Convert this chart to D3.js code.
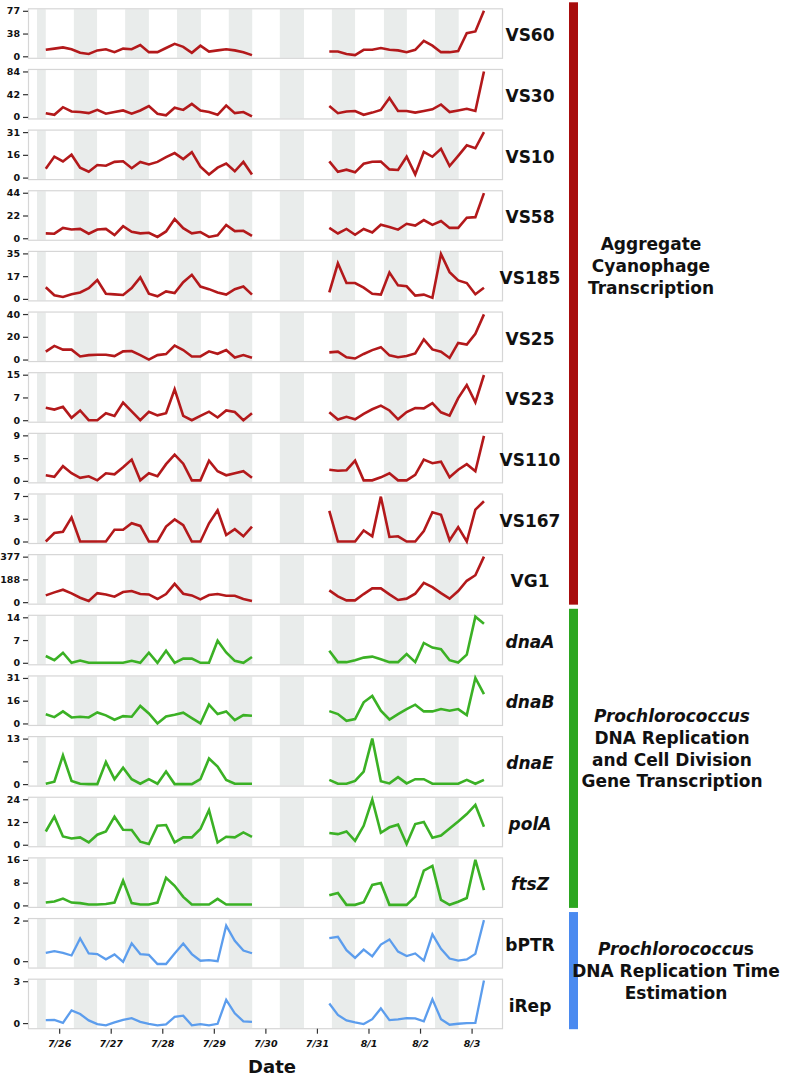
<!DOCTYPE html>
<html lang="en">
<head>
<meta charset="utf-8"/>
<title>Cyanophage and Prochlorococcus transcription</title>
<script src="https://d3js.org/d3.v7.min.js"></script>
<style>
  body { margin: 0; background: #fff; }
  text { font-family: "DejaVu Sans", Verdana, sans-serif; font-weight: bold; fill: #111; }
</style>
</head>
<body>
<script>

// ---- data ----
var names = ["VS60", "VS30", "VS10", "VS58", "VS185", "VS25", "VS23", "VS110", "VS167", "VG1",
             "dnaA", "dnaB", "dnaE", "polA", "ftsZ", "bPTR", "iRep"];
var groupOf = [0, 0, 0, 0, 0, 0, 0, 0, 0, 0, 1, 1, 1, 1, 1, 2, 2];
var italicName = [0, 0, 0, 0, 0, 0, 0, 0, 0, 0, 1, 1, 1, 1, 1, 0, 0];
var tickMax = [77, 84, 31, 44, 35, 40, 15, 9, 7, 377, 14, 31, 13, 24, 16, 2, 3];
var tickMidLabel = ["38", "42", "16", "22", "17", "20", "7", "5", "3", "188", "7", "16", "", "12", "8", null, null];

// sampling: first leg 25 samples, second leg 19 samples, every 4 hours (days since 7/26 00:00)
var leg1Start = -0.26, leg2Start = 5.24, stepDays = 1 / 6;
var leg1Count = 25, leg2Count = 19;

var VS60 = [11, 13, 15, 12, 6, 4, 10, 12, 7, 13, 12, 19, 7, 7, 14, 21, 16, 6, 18, 8, 10, 12, 10, 7, 2,
            8, 8, 4, 2, 11, 11, 14, 11, 10, 7, 11, 26, 18, 7, 7, 9, 39, 42, 77];
var VS30 = [7, 4, 18, 10, 9, 7, 13, 6, 9, 12, 6, 12, 20, 6, 3, 17, 13, 24, 12, 9, 4, 21, 7, 9, 1,
            20, 7, 10, 11, 4, 8, 13, 35, 11, 11, 8, 11, 14, 23, 9, 12, 15, 11, 84];
var VS10 = [6, 14.3, 11, 15.6, 6.8, 4, 8.6, 8.1, 10.7, 11.1, 6.4, 10.7, 9, 10.7, 13.9, 16.7, 12.6, 17.3, 7.5, 2.1, 6.8, 9.6, 4.3, 10.7, 2.1,
            11, 4, 5.4, 3.6, 9.4, 10.8, 11, 5.6, 5.2, 14.2, 2.2, 17.5, 14.2, 19.6, 7.9, 14.8, 22, 20, 31];
var VS58 = [4.7, 4.4, 10, 8.5, 9, 4.4, 8.5, 9, 3.1, 11.6, 6.3, 4.7, 5.3, 1.3, 6.6, 18.5, 9.7, 4.7, 6, 1.3, 2.8, 12.9, 6.9, 7.2, 2.2,
            10, 4.6, 9, 3.4, 9, 5.5, 13, 10.8, 8.3, 14, 12.2, 17.6, 12.9, 16.6, 10, 10, 19.8, 20.4, 43.6];
var VS185 = [9, 2.8, 1.5, 3.5, 5, 8.3, 14.5, 4, 3.5, 3, 8.3, 16.5, 4, 2, 5.8, 4.5, 12.8, 18.5, 9.5, 7.5, 5, 3.3, 7.5, 9.5, 3.3,
             5, 27.4, 12.2, 12.2, 8.6, 4, 3.3, 20.3, 10.4, 9.7, 2.5, 3.3, 0.8, 34.5, 20.6, 14.2, 12.2, 3.6, 8.6];
var VS25 = [6.9, 12, 8.7, 8.7, 2.7, 3.9, 4.2, 4.2, 3, 7.2, 7.5, 3.9, 0, 3.9, 4.8, 12.2, 8.4, 2.7, 2.7, 7.2, 5.1, 8.4, 1.8, 3.9, 1.5,
            6.3, 6.9, 2, 0.9, 4.9, 8.3, 10.9, 3.7, 2, 3.1, 5.4, 17.7, 8.9, 6.9, 1.4, 14.6, 13.1, 22.6, 39.7];
var VS23 = [4.1, 3.5, 4.4, 0.8, 3.2, 0, 0, 2.3, 1.4, 5.8, 2.9, 0, 2.8, 1.6, 2.3, 10.2, 1.4, 0, 1.4, 2.8, 0.9, 3.2, 2.7, 0, 2.3,
            2.6, 0.2, 1.1, 0.3, 2.1, 3.6, 4.8, 3.2, 0.3, 2.7, 4, 3.9, 5.6, 2.6, 1.5, 7.3, 11.6, 5.9, 14.9];
var VS110 = [1.1, 0.8, 2.9, 1.5, 0.6, 0.9, 0.1, 1.5, 1.3, 2.7, 4.2, 0.1, 1.5, 0.9, 3.3, 5.2, 3.4, 0.1, 0.1, 4, 1.9, 1.1, 1.5, 1.9, 0.6,
             2.2, 2, 2.1, 4, 0.1, 0.1, 0.7, 1.5, 0.1, 0.1, 1.2, 4.2, 3.5, 3.8, 0.7, 2.2, 3.3, 1.9, 8.9];
var VS167 = [0, 1.3, 1.5, 3.7, 0, 0, 0, 0, 1.8, 1.8, 2.8, 2.4, 0, 0, 2.3, 3.4, 2.5, 0, 0, 2.8, 4.8, 1, 1.9, 0.8, 2.3,
             4.7, 0, 0, 0, 1.7, 0.8, 6.9, 0.7, 0.8, 0, 0, 1.6, 4.5, 4.1, 0.2, 2.2, 0, 4.9, 6.2];
var VG1 = [56, 81, 103, 73, 37, 10, 75, 64, 45, 84, 92, 67, 64, 26, 67, 152, 70, 56, 23, 59, 67, 53, 53, 26, 10,
           97, 48, 15, 15, 67, 114, 114, 64, 18, 29, 70, 160, 125, 75, 29, 92, 177, 223, 377];
var dnaA = [2.1, 0.8, 3.1, 0, 0.7, 0, 0, 0, 0, 0, 0.6, 0, 3.1, 0, 3.7, 0, 1.3, 1.3, 0, 0, 6.8, 3.2, 0.6, 0, 1.8,
            3.7, 0.2, 0.2, 0.8, 1.6, 1.9, 1.1, 0.2, 0.2, 2.7, 0.2, 6.1, 4.7, 4.2, 0.8, 0.1, 2.5, 14.2, 12];
var dnaB = [6.2, 4.3, 8.2, 4.1, 4.6, 4.1, 7.5, 5.5, 2.5, 5, 4.6, 11.9, 6.8, 0, 4.8, 5.9, 7.3, 3.6, 0, 12.8, 6.4, 8.2, 2.3, 5.7, 5.2,
            8.4, 6.4, 1.8, 3, 14.4, 18.7, 8.7, 2.7, 6.4, 9.8, 12.8, 8.2, 8.2, 9.8, 8.7, 9.8, 5.7, 31, 20];
var dnaE = [0.1, 0.7, 8.2, 0.9, 0.1, 0, 0, 6.3, 1.4, 4.7, 1.4, 0.1, 1.4, 0.1, 3.6, 0, 0, 0, 1.4, 7.3, 5, 1.2, 0.1, 0.1, 0.1,
            1.2, 0.1, 0.1, 0.9, 3.6, 13, 0.8, 0.2, 2, 0.2, 1.4, 1.4, 0.1, 0.1, 0.1, 0.1, 1.2, 0.1, 1.2];
var polA = [7, 14.8, 4.4, 3.3, 3.9, 1.2, 5.3, 7, 14.8, 7.9, 7.8, 1.6, 0.4, 10, 10.4, 1.2, 3.9, 3.9, 8.3, 18.3, 1.2, 4.2, 3.9, 6.5, 4.2,
            6.2, 5.6, 7, 2.1, 10, 23.8, 6.3, 9.2, 10.6, 0.4, 10.9, 12, 3.7, 4.9, 8.6, 12.3, 16.2, 21, 9.5];
var ftsZ = [1, 1.4, 2.4, 1, 0.8, 0.3, 0.3, 0.5, 1, 8.7, 0.8, 0.3, 0.3, 1, 9.7, 6.9, 3, 0.3, 0.3, 0.3, 2.3, 0.3, 0.3, 0.3, 0.3,
            3.6, 4.4, 0.2, 0.2, 1.1, 7.2, 7.9, 0.2, 0.2, 0.2, 3.1, 12.2, 13.9, 1.9, 0.2, 1.3, 2.6, 16, 5.4];
var bPTR = [0.41, 0.49, 0.41, 0.28, 1.12, 0.38, 0.35, 0.09, 0.33, -0.03, 0.88, 0.35, 0.31, -0.14, -0.14, 0.38, 0.87, 0.35, 0.02, 0.05, 0, 1.75, 1, 0.52, 0.39,
            1.13, 1.2, 0.54, 0.16, 0.57, 0.24, 0.82, 1.07, 0.47, 0.25, 0.38, 0.03, 1.32, 0.61, 0.13, 0.03, 0.09, 0.36, 2.02];
var iRep = [0.21, 0.23, 0.02, 0.91, 0.65, 0.19, -0.07, -0.16, 0.05, 0.23, 0.35, 0.09, -0.05, -0.16, -0.09, 0.44, 0.53, -0.16, -0.07, -0.16, -0.05, 1.67, 0.7, 0.12, 0.09,
            1.4, 0.58, 0.19, 0.05, -0.07, 0.28, 1.05, 0.21, 0.26, 0.35, 0.33, 0.12, 1.7, 0.28, -0.12, -0.05, 0, 0.02, 3.05];
var seriesValues = [VS60, VS30, VS10, VS58, VS185, VS25, VS23, VS110, VS167, VG1, dnaA, dnaB, dnaE, polA, ftsZ, bPTR, iRep];

// dark periods (days since 7/26 00:00)
var nightStart = [-0.43, 0.285, 1.28, 2.285, 3.29, 4.28, 5.29, 6.3, 7.29];
var nightEnd = [-0.26, 0.735, 1.74, 2.75, 3.745, 4.75, 5.74, 6.745, 7.75];

var dayTicks = [0, 1, 2, 3, 4, 5, 6, 7, 8];
var dayLabels = ["7/26", "7/27", "7/28", "7/29", "7/30", "7/31", "8/1", "8/2", "8/3"];

var groupNames = [["Aggregate", "Cyanophage", "Transcription"],
                  ["Prochlorococcus", "DNA Replication", "and Cell Division", "Gene Transcription"],
                  ["Prochlorococcus", "DNA Replication Time", "Estimation"]];
var lineColors = ["#b3191b", "#3bb125", "#5c9ded"];
var barColors = ["#a80d0d", "#2ca620", "#4a8af0"];

// ---- layout ----
var width = 796, height = 1079;
var top0 = 8.3, pitch = 60.65, boxH = 49.5;
var axisX = 28, boxRight = 502;

var svg = d3.select("body").append("svg")
    .attr("width", width)
    .attr("height", height);

var x = d3.scaleLinear().domain([-0.43, 8.59]).range([37, boxRight]);

var times1 = d3.range(leg1Count).map(function(i) { return leg1Start + i * stepDays; });
var times2 = d3.range(leg2Count).map(function(i) { return leg2Start + i * stepDays; });

names.forEach(function(name, k) {
    var top = top0 + k * pitch;
    var vals = seriesValues[k];
    var lo = Math.min(0, d3.min(vals));
    if (lo < 0) lo -= 0.1;
    var y = d3.scaleLinear().domain([lo, tickMax[k]]).range([top + boxH - 1.5, top + 2.5]);

    var g = svg.append("g").attr("class", "panel");

    // night bands
    g.selectAll("rect.night")
        .data(nightStart)
        .enter().append("rect")
        .attr("class", "night")
        .attr("x", function(d) { return x(d); })
        .attr("width", function(d, i) { return x(nightEnd[i]) - x(d); })
        .attr("y", top + 1)
        .attr("height", boxH - 1)
        .attr("fill", "#e9eceb");

    // frame
    g.append("rect")
        .attr("x", axisX + 0.5).attr("y", top + 0.5)
        .attr("width", boxRight - axisX).attr("height", boxH)
        .attr("fill", "none").attr("stroke", "#d6d6d6").attr("stroke-width", 1.2);

    // y axis
    var tv = [0, tickMax[k]];
    var tl = ["0", String(tickMax[k])];
    if (tickMidLabel[k] !== null) { tv.push(tickMax[k] / 2); tl.push(tickMidLabel[k]); }
    var yAxis = d3.axisLeft(y).tickValues(tv).tickSize(5).tickPadding(3)
        .tickFormat(function(d, i) { return tl[i]; });
    var ga = g.append("g").attr("transform", "translate(" + axisX + ",0)").call(yAxis);
    ga.select(".domain").remove();
    ga.selectAll(".tick line").attr("stroke", "#333").attr("stroke-width", 1.2);
    ga.selectAll(".tick text").attr("font-size", "9.5px").attr("font-weight", "bold")
        .style("font-family", "'DejaVu Sans', sans-serif").attr("fill", "#111");

    // lines
    var line = d3.line().x(function(d) { return x(d[0]); }).y(function(d) { return y(d[1]); });
    var leg1 = times1.map(function(t, i) { return [t, vals[i]]; });
    var leg2 = times2.map(function(t, i) { return [t, vals[leg1Count + i]]; });
    g.selectAll("path.series")
        .data([leg1, leg2])
        .enter().append("path")
        .attr("class", "series")
        .attr("d", line)
        .attr("fill", "none")
        .attr("stroke", lineColors[groupOf[k]])
        .attr("stroke-width", groupOf[k] === 2 ? 2.3 : 2.6)
        .attr("stroke-linejoin", "miter");

    // series name
    g.append("text")
        .attr("x", 530).attr("y", top + 33)
        .attr("text-anchor", "middle")
        .attr("font-size", "17px")
        .style("font-style", italicName[k] ? "italic" : "normal")
        .text(name);
});

// bottom axis
var lastBottom = top0 + 16 * pitch + boxH;
var xAxis = d3.axisBottom(x).tickValues(dayTicks).tickSize(5).tickPadding(7)
    .tickFormat(function(d, i) { return dayLabels[i]; });
var gx = svg.append("g").attr("transform", "translate(0," + (lastBottom + 0.5) + ")").call(xAxis);
gx.select(".domain").remove();
gx.selectAll(".tick line").attr("stroke", "#333").attr("stroke-width", 1.2);
gx.selectAll(".tick text").attr("font-size", "9.5px").attr("font-weight", "bold")
    .style("font-style", "italic")
    .style("font-family", "'DejaVu Sans', sans-serif").attr("fill", "#111");

svg.append("text")
    .attr("x", 272).attr("y", 1073)
    .attr("text-anchor", "middle")
    .attr("font-size", "18px")
    .text("Date");

// group bars
var groupFirst = [0, 10, 15], groupLast = [9, 14, 16];
groupFirst.forEach(function(f, gi) {
    var y0 = top0 + f * pitch - 6;
    var y1 = top0 + groupLast[gi] * pitch + boxH + 1;
    svg.append("rect")
        .attr("x", 569).attr("y", y0)
        .attr("width", 9).attr("height", y1 - y0)
        .attr("fill", barColors[gi]);
});

// group labels
var groupLabelX = [651, 672, 676];
var groupLabelY = [250, 722, 955];
groupNames.forEach(function(lines, gi) {
    var t = svg.append("text")
        .attr("x", groupLabelX[gi]).attr("y", groupLabelY[gi])
        .attr("text-anchor", "middle")
        .attr("font-size", "17px");
    lines.forEach(function(s, li) {
        var ts = t.append("tspan")
            .attr("x", groupLabelX[gi])
            .attr("dy", li === 0 ? 0 : 21.8);
        if (gi > 0 && li === 0) {
            if (gi === 2) {
                ts.append("tspan").style("font-style", "italic").text(s.slice(0, -1));
                ts.append("tspan").text(s.slice(-1));
            } else {
                ts.style("font-style", "italic").text(s);
            }
        } else {
            ts.text(s);
        }
    });
});

</script>
</body>
</html>
